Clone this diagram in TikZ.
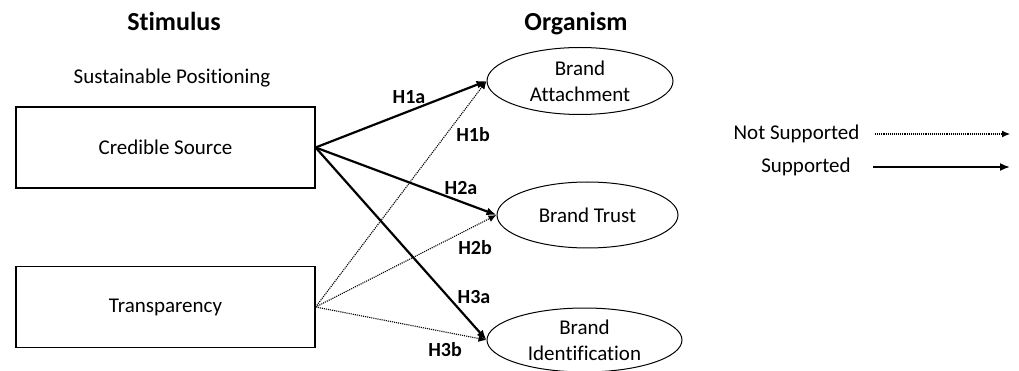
\documentclass[tikz,border=0pt]{standalone}
\usepackage{fontspec}
\setmainfont{Carlito}[Ligatures={NoCommon}]
\usetikzlibrary{shapes.geometric, arrows.meta}

\begin{document}
\begin{tikzpicture}[x=1pt, y=-1pt, every node/.style={font=\fontsize{21}{26}\selectfont, anchor=center},
	caixa/.style={draw, line width=1.2pt, minimum width=299pt, minimum height=81pt, inner sep=0pt},
	elipse/.style={draw, ellipse, line width=1pt, inner sep=0pt, align=center},
	hip/.style={font=\fontsize{20}{23}\selectfont\bfseries},
	titulo/.style={font=\fontsize{26}{30}\selectfont\bfseries, anchor=base},
	suporte/.style={line width=2.2pt, -{Latex[length=10pt, width=8pt]}},
	semsuporte/.style={line width=1.1pt, densely dotted, -{Latex[length=8pt, width=7pt]}}]

			\useasboundingbox (0,0) rectangle (1019,371);

			% Titulos das colunas
			\node[titulo] (tStim) at (174, 31) {Stimulus};
			\node[titulo] (tOrg) at (576, 31) {Organism};
			\node (sust) at (172, 78) {Sustainable Positioning};

			% Estimulos
			\node[caixa] (cred) at (165.5, 147.5) {Credible Source};
			\node[caixa] (transp) at (165.5, 307) {Transparency};

			% Organismo
			\node[elipse, minimum width=186pt, minimum height=67pt] (attach) at (580, 81) {Brand\\Attachment};
			\node[elipse, minimum width=181pt, minimum height=66pt] (trust) at (587.5, 215) {Brand Trust};
			\node[elipse, minimum width=195pt, minimum height=64pt] (ident) at (584.5, 340) {Brand\\Identification};

			% Hipoteses suportadas
			\draw[suporte] (cred.east) -- (attach.west);
			\draw[suporte] (cred.east) -- (trust.west);
			\draw[suporte] (cred.east) -- (ident.west);

			% Hipoteses nao suportadas
			\draw[semsuporte] (transp.east) -- (attach.west);
			\draw[semsuporte] (transp.east) -- (trust.west);
			\draw[semsuporte] (transp.east) -- (ident.west);

			% Rotulos
			\node[hip] (h1a) at (409, 97) {H1a};
			\node[hip] (h1b) at (473, 135) {H1b};
			\node[hip] (h2a) at (461, 188) {H2a};
			\node[hip] (h2b) at (475, 248) {H2b};
			\node[hip] (h3a) at (474, 297) {H3a};
			\node[hip] (h3b) at (445, 350) {H3b};

			% Legenda
			\node[anchor=east] (lNao) at (863, 134) {Not Supported};
			\node (lSim) at (806, 167) {Supported};
			\coordinate (nA) at (875, 134);
			\coordinate (nB) at (1010, 134);
			\coordinate (sA) at (873, 167);
			\coordinate (sB) at (1010, 167);
			\draw[semsuporte] (nA) -- (nB);
			\draw[suporte, line width=1.8pt] (sA) -- (sB);

		\end{tikzpicture}
\end{document}
